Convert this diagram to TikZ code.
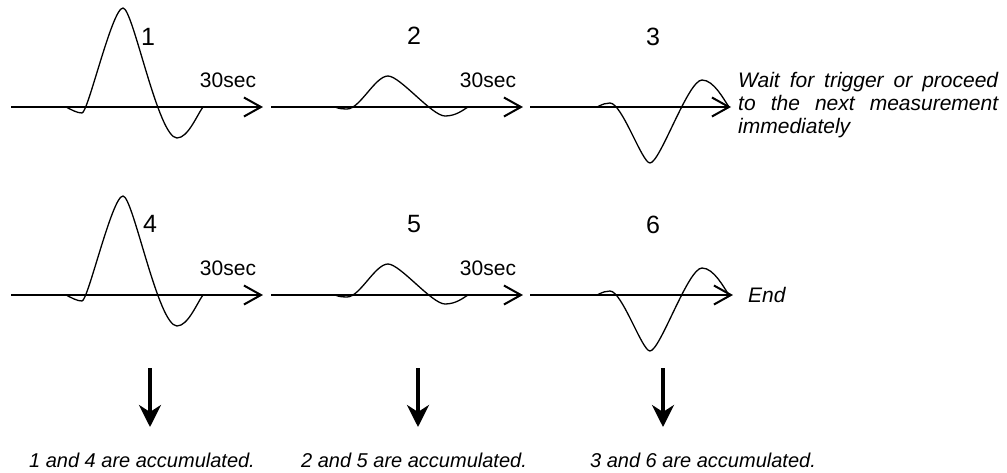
\documentclass[tikz,border=0pt]{standalone}
\usepackage{fontspec}
\setmainfont{Liberation Sans}
\usetikzlibrary{arrows.meta}

\begin{document}
\begin{tikzpicture}[
  x=1pt, y=-1pt,
  num/.style={font=\fontsize{25}{30}\selectfont, inner sep=0pt},
  lbl/.style={font=\fontsize{21}{25}\selectfont, inner sep=0pt},
  note/.style={font=\fontsize{21}{23}\selectfont\itshape, inner sep=0pt},
  accnote/.style={font=\fontsize{20}{24}\selectfont\itshape, inner sep=0pt},
  axis/.style={line width=2pt, -{Straight Barb[length=17pt, width=19pt, line width=2pt]}},
  wave/.style={line width=1.3pt, line join=round},
  down/.style={line width=3.5pt, -{Stealth[length=22pt, width=22pt, inset=7pt]}},
]
\useasboundingbox (0,0) rectangle (1007,472);

% time axes
\coordinate (a1s) at (11,107);  \coordinate (a1e) at (263,107);
\coordinate (a2s) at (271,107); \coordinate (a2e) at (523,107);
\coordinate (a3s) at (530,107); \coordinate (a3e) at (731,107);
\coordinate (b1s) at (11,295);  \coordinate (b1e) at (263,295);
\coordinate (b2s) at (271,295); \coordinate (b2e) at (523,295);
\coordinate (b3s) at (530,295); \coordinate (b3e) at (733,295);
\draw[axis] (a1s) -- (a1e);
\draw[axis] (a2s) -- (a2e);
\draw[axis] (a3s) -- (a3e);
\draw[axis] (b1s) -- (b1e);
\draw[axis] (b2s) -- (b2e);
\draw[axis] (b3s) -- (b3e);

% waveforms, second row is the same shifted down
\foreach \dy in {0,188} {
\begin{scope}[shift={(0,\dy)}]
\draw[wave] (66,107) .. controls (72,110) and (77,113) .. (82,113)
  .. controls (88,113) and (112,8) .. (123,8)
  .. controls (133,8) and (158,138) .. (177,138)
  .. controls (188,138) and (197,115) .. (203,107);
\draw[wave] (335,107) .. controls (340,109) and (343,109) .. (347,109)
  .. controls (360,109) and (375,76) .. (388,76)
  .. controls (400,76) and (432,116) .. (445,116)
  .. controls (456,116) and (463,110) .. (468,107);
\draw[wave] (597,107) .. controls (603,104) and (606,103) .. (610,103)
  .. controls (622,103) and (642,163) .. (650,163)
  .. controls (660,163) and (688,80) .. (702,80)
  .. controls (714,80) and (724,100) .. (729,107);
\end{scope}
}

% labels
\node[num] (n1) at (148,37)  {1};
\node[num] (n2) at (414,36)  {2};
\node[num] (n3) at (653,37)  {3};
\node[num] (n4) at (150,224) {4};
\node[num] (n5) at (414,224) {5};
\node[num] (n6) at (653,225) {6};
\node[lbl] (t1) at (228,80)  {30sec};
\node[lbl] (t2) at (488,80)  {30sec};
\node[lbl] (t4) at (228,268) {30sec};
\node[lbl] (t5) at (488,268) {30sec};
\node[note, anchor=north west, align=left] (wait) at (738,72)
  {\makebox[260pt][s]{Wait for trigger or proceed}\\
   \makebox[260pt][s]{to the next measurement}\\
   immediately};
\node[note, anchor=west] (end) at (748,295) {End};

% accumulation
\coordinate (d1s) at (150,368); \coordinate (d1e) at (150,427);
\coordinate (d2s) at (418,368); \coordinate (d2e) at (418,427);
\coordinate (d3s) at (663,368); \coordinate (d3e) at (663,427);
\draw[down] (d1s) -- (d1e);
\draw[down] (d2s) -- (d2e);
\draw[down] (d3s) -- (d3e);
\node[accnote, anchor=base] (acc1) at (142,467) {1 and 4 are accumulated.};
\node[accnote, anchor=base] (acc2) at (414,467) {2 and 5 are accumulated.};
\node[accnote, anchor=base] (acc3) at (703,467) {3 and 6 are accumulated.};
\end{tikzpicture}
\end{document}
